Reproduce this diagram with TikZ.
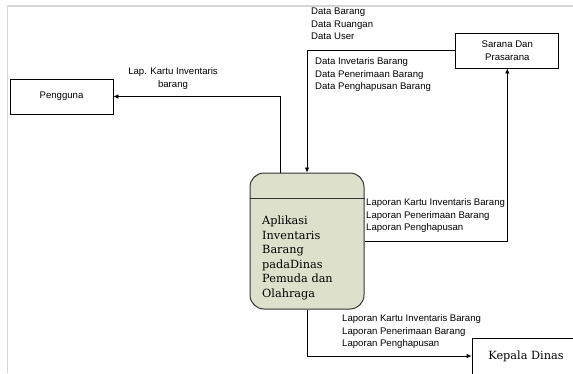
\documentclass[tikz,border=0pt]{standalone}
\usepackage{fontspec}
\setmainfont{Liberation Sans}
\newfontfamily\serifcap{DejaVu Serif}
\usetikzlibrary{arrows.meta}
\definecolor{procfill}{RGB}{221,224,203}
\definecolor{framegray}{RGB}{214,214,214}
\tikzset{
  entity/.style={draw=black, line width=0.8pt, minimum width=103pt, minimum height=35pt, inner sep=0pt, align=center, font=\fontsize{9.6}{12.5}\selectfont},
  arr/.style={draw=black, line width=0.8pt, -{Latex[length=5pt,width=4.5pt]}},
  lbl/.style={inner sep=0pt, align=left, anchor=west, font=\fontsize{9.6}{12.5}\selectfont},
  clbl/.style={inner sep=0pt, align=center, font=\fontsize{9.6}{12.5}\selectfont},
  proc/.style={draw=black!80, line width=1pt, fill=procfill, rounded corners=14pt, minimum width=114pt, minimum height=136pt, inner sep=0pt},
  sertext/.style={inner sep=0pt, align=left, anchor=west, font=\serifcap\fontsize{11.3}{14.5}\selectfont}
}
\begin{document}
\begin{tikzpicture}[x=1pt,y=-1pt]
\useasboundingbox (0,0) rectangle (573,373);
\begin{scope}
\clip (0,0) rectangle (573,373);
\draw[framegray, line width=1.5pt] (7.5,373) -- (7.5,6) -- (573,6);
\node[entity] (pengguna) at (61.5,96.5) {Pengguna};
\node[entity] (sarana) at (507.3,50.5) {Sarana Dan\\Prasarana};
\node[entity, minimum width=112pt, minimum height=36pt, font=\serifcap\fontsize{11.3}{14}\selectfont] (kepala) at (528,356) {\hspace*{-4pt}Kepala Dinas};
\node[proc] (proc) at (307,241) {};
\draw[black!80, line width=1pt] (proc.west |- 0,198) coordinate (dl) -- (proc.east |- 0,198) coordinate (dr);
\node[sertext] (proctext) at (262,258) {Aplikasi\\Inventaris\\Barang\\padaDinas\\Pemuda dan\\Olahraga};
\draw[arr] ([xshift=31pt]proc.north west) |- (pengguna.east);
\draw[arr] (sarana.west) -| (proc.north);
\draw[arr] (proc.east) -| (sarana.south);
\draw[arr] (proc.south) |- (kepala.west);
\node[clbl] (l1) at (173,78.5) {Lap. Kartu Inventaris\\barang};
\node[lbl] (l2) at (311,24) {Data Barang\\Data Ruangan\\Data User};
\node[lbl] (l3) at (315,75) {Data Invetaris Barang\\Data Penerimaan Barang\\Data Penghapusan Barang};
\node[lbl] (l4) at (366,216) {Laporan Kartu Inventaris Barang\\Laporan Penerimaan Barang\\Laporan Penghapusan};
\node[lbl] (l5) at (342,332) {Laporan Kartu Inventaris Barang\\Laporan Penerimaan Barang\\Laporan Penghapusan};
\end{scope}
\end{tikzpicture}
\end{document}
